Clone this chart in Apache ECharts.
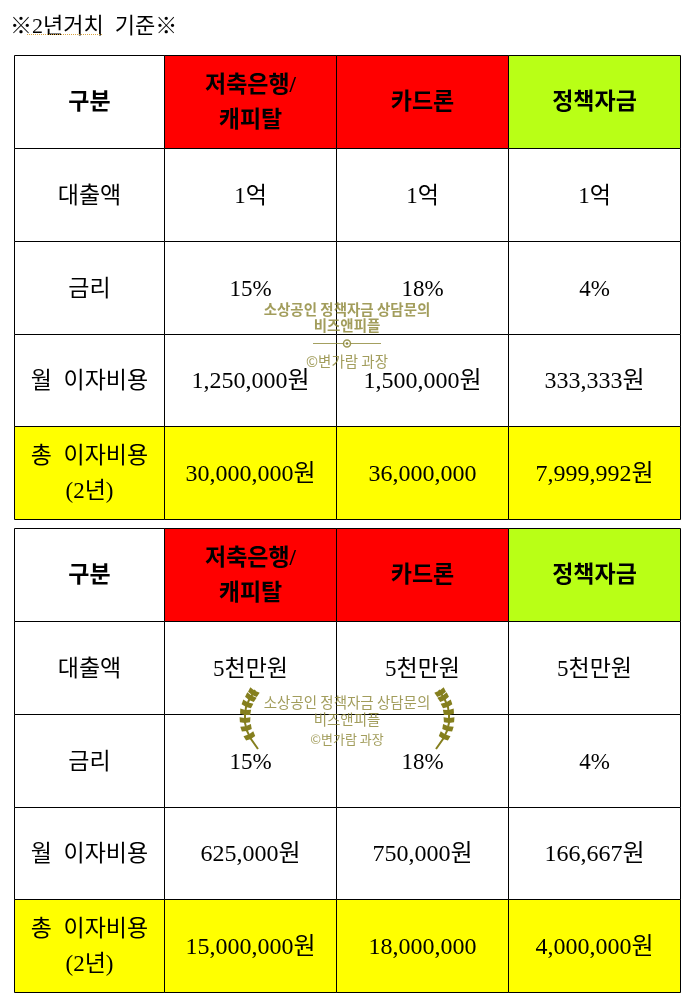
<!DOCTYPE html>
<html>
<head>
<meta charset="utf-8">
<title>2년거치 기준</title>
<style>html,body{margin:0;padding:0;background:#fff}#main{width:695px;height:1005px}</style>
<script src="https://cdn.jsdelivr.net/npm/echarts@6/dist/echarts.min.js"></script>
</head>
<body>
<div id="main"></div>
<script>
var titleText = '※2년거치  기준※';
var rowNames = ['구분', '대출액', '금리', '월  이자비용', '총  이자비용\n(2년)'];
var columns = ['저축은행/\n캐피탈', '카드론', '정책자금'];

// 1억 기준
var loanA = ['1억', '1억', '1억'];
var rateA = ['15%', '18%', '4%'];
var monthlyA = ['1,250,000원', '1,500,000원', '333,333원'];
var totalA = ['30,000,000원', '36,000,000', '7,999,992원'];

// 5천만원 기준
var loanB = ['5천만원', '5천만원', '5천만원'];
var rateB = ['15%', '18%', '4%'];
var monthlyB = ['625,000원', '750,000원', '166,667원'];
var totalB = ['15,000,000원', '18,000,000', '4,000,000원'];

var headerColors = ['#ff0000', '#ff0000', '#b9ff16'];
var totalColor = '#ffff00';
var fontFamily = '"Liberation Serif", "Noto Sans CJK KR", serif';
var wmColor = '#8d8838';
var leafColor = '#857f1e';

var grids = [], xAxes = [], yAxes = [], series = [];

function addGrid(left, top, width, height, cats) {
    var idx = grids.length;
    grids.push({ left: left, top: top, width: width, height: height, containLabel: false });
    xAxes.push({ type: 'category', gridIndex: idx, data: cats, show: false });
    yAxes.push({ type: 'category', gridIndex: idx, data: rowNames, inverse: true, show: false });
    return idx;
}

// 선이 흐려지지 않게 픽셀 가운데로 맞춤
function snap(v) {
    return Math.floor(v + 0.5) + 0.5;
}

function addCells(idx, cells) {
    series.push({
        type: 'custom',
        xAxisIndex: idx,
        yAxisIndex: idx,
        silent: true,
        data: cells.map(function (c) { return [c.x, c.y]; }),
        renderItem: function (params, api) {
            var c = cells[params.dataIndex];
            var center = api.coord([api.value(0), api.value(1)]);
            var size = api.size([1, 1]);
            var x0 = snap(center[0] - size[0] / 2), x1 = snap(center[0] + size[0] / 2);
            var y0 = snap(center[1] - size[1] / 2), y1 = snap(center[1] + size[1] / 2);
            return {
                type: 'group',
                children: [{
                    type: 'rect',
                    shape: { x: x0, y: y0, width: x1 - x0, height: y1 - y0 },
                    style: { fill: c.color || '#fff', stroke: '#000', lineWidth: 1 }
                }, {
                    type: 'text',
                    z2: 10,
                    x: (x0 + x1) / 2,
                    y: (y0 + y1) / 2 + 1.5,
                    style: {
                        text: c.text,
                        fill: '#000',
                        font: (c.bold ? 'bold ' : '') + (c.size || 23) + 'px ' + fontFamily,
                        lineHeight: 35,
                        align: 'center',
                        verticalAlign: 'middle'
                    }
                }]
            };
        }
    });
}

function addTable(top, loan, rate, monthly, total) {
    var h = 463.8;
    var left = addGrid(14, top, 150, h, ['항목']);
    var right = addGrid(164, top, 516, h, columns);
    var names = [];
    rowNames.forEach(function (name, r) {
        names.push({ x: 0, y: r, text: name, color: r === 4 ? totalColor : null, bold: r === 0 });
    });
    addCells(left, names);
    var cells = [];
    columns.forEach(function (c, i) {
        cells.push({ x: i, y: 0, text: c, color: headerColors[i], bold: true });
        cells.push({ x: i, y: 1, text: loan[i] });
        cells.push({ x: i, y: 2, text: rate[i] });
        cells.push({ x: i, y: 3, text: monthly[i], size: 24 });
        cells.push({ x: i, y: 4, text: total[i], color: totalColor, size: 24 });
    });
    addCells(right, cells);
}

addTable(55.3, loanA, rateA, monthlyA, totalA);
addTable(528.3, loanB, rateB, monthlyB, totalB);

function wmText(y, text, size, bold) {
    return {
        type: 'text', x: 347, y: y, silent: true, z: 50,
        style: {
            text: text, fill: wmColor, opacity: 0.82,
            font: (bold ? 'bold ' : '') + size + 'px "Noto Sans CJK KR"',
            align: 'center', verticalAlign: 'middle'
        }
    };
}

// 월계수 한쪽 (가운데에서 떨어진 거리, y)
function wreath(side) {
    var cx = 347, out = [];
    var nodes = [[89, 749], [96, 739], [100, 731], [102, 723], [102, 715], [101, 707], [98, 700], [95, 695], [92, 690]];
    var px = function (n) { return [cx + side * n[0], n[1]]; };
    out.push({
        type: 'polyline', silent: true, z: 51,
        shape: { points: nodes.map(px) },
        style: { stroke: leafColor, lineWidth: 2, fill: null }
    });
    for (var i = 2; i < nodes.length; i++) {
        var dx = nodes[i][0] - nodes[i - 1][0], dy = nodes[i][1] - nodes[i - 1][1];
        var a = Math.atan2(dy, dx);
        [-0.75, 0.75].forEach(function (turn) {
            var b = nodes[i - 1];
            var t = [b[0] + 8 * Math.cos(a + turn), b[1] + 8 * Math.sin(a + turn)];
            var m = [(b[0] + t[0]) / 2, (b[1] + t[1]) / 2];
            var nx = -Math.sin(a + turn) * 3.2, ny = Math.cos(a + turn) * 3.2;
            out.push({
                type: 'polygon', silent: true, z: 51,
                shape: { points: [px(b), px([m[0] + nx, m[1] + ny]), px(t), px([m[0] - nx, m[1] - ny])] },
                style: { fill: leafColor }
            });
        });
    }
    return out;
}

var graphics = [
    { type: 'line', silent: true, z: 40,
      shape: { x1: 27, y1: 34.5, x2: 103, y2: 34.5 },
      style: { stroke: '#d9a441', lineWidth: 1, lineDash: [1, 1] } },
    wmText(309, '소상공인 정책자금 상담문의', 14.5, true),
    wmText(325, '비즈앤피플', 14.5, true),
    { type: 'line', silent: true, z: 50,
      shape: { x1: 313, y1: 343.5, x2: 381, y2: 343.5 },
      style: { stroke: wmColor, lineWidth: 1, opacity: 0.8 } },
    { type: 'circle', silent: true, z: 50,
      shape: { cx: 347, cy: 343.5, r: 3.5 },
      style: { fill: '#fff', stroke: wmColor, lineWidth: 1.5, opacity: 0.85 } },
    { type: 'circle', silent: true, z: 51,
      shape: { cx: 347, cy: 343.5, r: 1.3 },
      style: { fill: wmColor } },
    wmText(361, '©변가람 과장', 14.5),
    wmText(702, '소상공인 정책자금 상담문의', 14.5),
    wmText(719, '비즈앤피플', 14.5),
    wmText(739, '©변가람 과장', 13)
].concat(wreath(-1), wreath(1));

var chart = echarts.init(document.getElementById('main'));
chart.setOption({
    animation: false,
    backgroundColor: '#fff',
    title: {
        text: titleText,
        left: 10,
        top: 16,
        padding: 0,
        textStyle: { fontFamily: fontFamily, fontSize: 22, fontWeight: 'normal', color: '#000' }
    },
    grid: grids,
    xAxis: xAxes,
    yAxis: yAxes,
    series: series,
    graphic: graphics
});
</script>
</body>
</html>
